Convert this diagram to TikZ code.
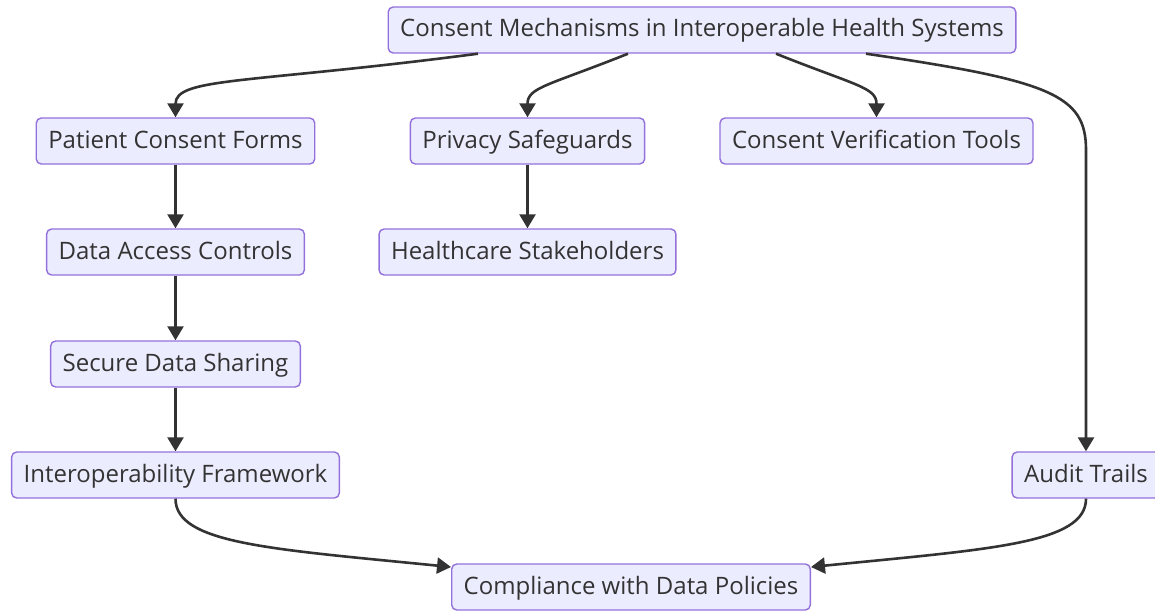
\documentclass[tikz,border=0pt]{standalone}
\usepackage{fontspec}
\setmainfont{Open Sans}
\usepackage{xcolor}
\usetikzlibrary{arrows.meta}
\definecolor{boxfill}{HTML}{ECECFF}
\definecolor{boxline}{HTML}{9370DB}
\definecolor{ink}{HTML}{333333}
\begin{document}
\begin{tikzpicture}[x=1pt,y=-1pt,
  font=\fontsize{24}{28}\selectfont,
  box/.style={draw=boxline,fill=boxfill,line width=1.4pt,rounded corners=5pt,
    minimum height=46pt,inner xsep=12pt,inner ysep=0pt,text height=18pt,
    text depth=4pt,text=ink},
  link/.style={draw=ink,line width=2.6pt,-{Triangle[length=14pt,width=16pt]}}]
  \useasboundingbox (0,0) rectangle (1155,610);
  \node[box] (top) at (702,30) {Consent Mechanisms in Interoperable Health Systems};
  \node[box] (pcf) at (175.5,141) {Patient Consent Forms};
  \node[box] (psg) at (527.5,141) {Privacy Safeguards};
  \node[box] (cvt) at (876.5,141) {Consent Verification Tools};
  \node[box] (dac) at (175.5,252) {Data Access Controls};
  \node[box] (hcs) at (527.5,252) {Healthcare Stakeholders};
  \node[box] (sds) at (175.5,364) {Secure Data Sharing};
  \node[box] (iof) at (175.5,475) {Interoperability Framework};
  \node[box] (aud) at (1086,475) {Audit Trails};
  \node[box] (cwp) at (631,587) {Compliance with Data Policies};
  % fan out from the top box
  \draw[link] ([xshift=-224pt]top.south) .. controls +(-230,30) and +(0,-40) .. (pcf.north);
  \draw[link] ([xshift=-74pt]top.south) .. controls +(-80,32) and +(0,-30) .. (psg.north);
  \draw[link] ([xshift=74pt]top.south) .. controls +(80,32) and +(0,-30) .. (cvt.north);
  \draw[link] ([xshift=164pt]top.south) .. controls +(185,27) and +(0,-55)
    .. (aud.north |- 0,150) -- (aud.north);
  % straight chains
  \foreach \a/\b in {pcf/dac,dac/sds,sds/iof,psg/hcs}{
    \draw[link] (\a) -- (\b);}
  % into compliance
  \draw[link] (iof.south) .. controls +(0,45) and +(-180,-18) .. ([yshift=20pt]cwp.west);
  \draw[link] (aud.south) .. controls +(0,45) and +(180,-18) .. ([yshift=20pt]cwp.east);
\end{tikzpicture}
\end{document}
